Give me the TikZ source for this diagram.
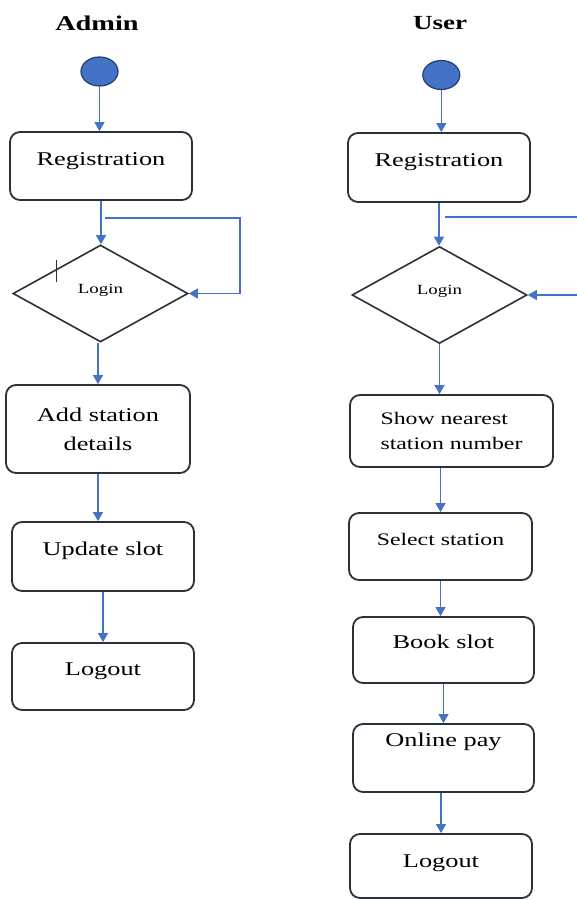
\documentclass[tikz,border=0pt]{standalone}
\usepackage{fontspec}
\setmainfont{Liberation Serif}[FakeStretch=1.35]
\usetikzlibrary{arrows.meta,shapes.geometric,calc}
\definecolor{flowblue}{HTML}{4472C4}
\definecolor{boxline}{HTML}{2B303B}
\definecolor{dotline}{HTML}{1F3F73}
\begin{document}
\begin{tikzpicture}[x=1pt,y=-1pt,
    box/.style={draw=boxline,line width=1.8pt,rounded corners=10pt,inner sep=4pt,align=center,font=\fontsize{19.5}{29}\selectfont},
    lift/.style={text height=13pt,text depth=#1},
    dia/.style={diamond,draw=boxline,line width=1.6pt,inner sep=0pt,minimum width=175pt,minimum height=97pt,text height=9pt,text depth=10pt,font=\fontsize{14}{16}\selectfont},
    startdot/.style={ellipse,draw=dotline,line width=1.2pt,fill=flowblue,inner sep=0pt,minimum width=37pt,minimum height=29pt},
    flow/.style={draw=flowblue,line width=1.2pt,-{Triangle[length=9pt,width=10pt]}},
    heading/.style={font=\bfseries\fontsize{#1}{24}\selectfont}]
    \useasboundingbox (0,0) rectangle (576,900);
    \node[heading=21] (atitle) at (97,23) {Admin};
    \node[heading=20] (utitle) at (440,23) {User};
    \node[startdot] (astart) at (99.5,71.5) {};
    \node[box,lift=15pt,minimum width=182pt,minimum height=68pt] (areg) at (101,166) {Registration};
    \node[dia] (adia) at (100.5,293.5) {Login};
    \node[box,minimum width=184pt,minimum height=88pt] (aadd) at (98,429) {Add station\\details};
    \node[box,lift=15pt,minimum width=182pt,minimum height=69pt] (aupd) at (103,556.5) {Update slot};
    \node[box,lift=15pt,minimum width=182pt,minimum height=67pt] (aout) at (103,676.5) {Logout};
    \node[startdot] (ustart) at (441.3,75) {};
    \node[box,lift=15pt,minimum width=182pt,minimum height=69pt] (ureg) at (439,167.5) {Registration};
    \node[dia] (udia) at (439.5,295) {Login};
    \node[box,align=left,font=\fontsize{17.6}{25}\selectfont,minimum width=203pt,minimum height=72pt] (ushow) at (451.5,431) {Show nearest\\station number};
    \node[box,lift=16pt,font=\fontsize{17.6}{25}\selectfont,minimum width=183pt,minimum height=67pt] (usel) at (440.5,546.5) {Select station};
    \node[box,lift=16pt,minimum width=181pt,minimum height=66pt] (ubook) at (443.5,650) {Book slot};
    \node[box,lift=36pt,minimum width=181pt,minimum height=68pt] (upay) at (443.5,758) {Online pay};
    \node[box,lift=10pt,minimum width=182pt,minimum height=64pt] (uout) at (441,866) {Logout};
    \foreach \a/\b in {astart/areg,areg/adia,aadd/aupd,aupd/aout,ustart/ureg,ureg/udia,udia/ushow,usel/ubook,ubook/upay}
      \draw[flow] (\a.south) -- (\a.south |- \b.north);
    \foreach \a/\b in {adia/aadd,ushow/usel,upay/uout}
      \draw[flow] (\a.south -| \b.north) -- (\b.north);
    \coordinate (aloop) at (105,218);
    \draw[flow] (aloop) -- ++(135,0) |- (adia.east);
    \coordinate (uloop) at (445,217);
    \draw[flow] (uloop) -- (582,217) |- (udia.east);
    \draw[boxline,line width=1pt] ($(adia.north)!0.5!(adia.west)$) ++(0,-9) -- ++(0,22);
\end{tikzpicture}
\end{document}
